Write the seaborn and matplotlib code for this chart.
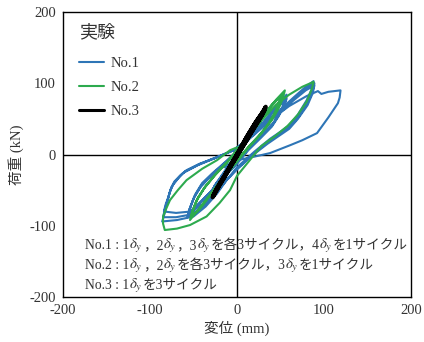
import matplotlib
matplotlib.use("Agg")
import matplotlib.pyplot as plt
import seaborn as sns
import pandas as pd

# ---- data ----
# No.1 : 1dy, 2dy, 3dy x3 cycles, 4dy x1
disp1 = [0, 10, 20, 28, 26, 18, 8, 0, -10, -20, -28, -26, -18, -8, 0,
         10, 20, 28, 25, 17, 6, -2, -11, -20, -28, -25, -16, -6, 0,
         10, 20, 28, 25, 16, 5, -3, -12, -21, -28, -24, -15, -5, 0,
         15, 30, 45, 57, 55, 50, 42, 30, 15, 0, -15, -30, -45, -57, -55, -50, -42, -30, -15, 0,
         15, 30, 45, 57, 55, 49, 41, 29, 14, 0, -15, -30, -45, -56, -54, -49, -41, -29, -14, 0,
         15, 30, 45, 57, 54, 48, 40, 28, 13, 0, -15, -30, -45, -56, -53, -48, -40, -28, -13, 0,
         15, 30, 49, 65, 78, 88, 86, 80, 70, 61, 50, 38, 20, 0, -12, -23, -36, -50, -69, -86,
         -83, -81, -78, -75, -68, -62, -45, -25, -4,
         15, 30, 49, 65, 78, 89, 87, 81, 71, 61, 49, 36, 18, 0, -12, -24, -37, -52, -70, -85,
         -83, -80, -77, -73, -66, -60, -44, -24, -4,
         15, 30, 49, 65, 79, 89, 87, 81, 70, 60, 48, 35, 17, 0, -12, -24, -38, -53, -70, -84,
         -82, -79, -76, -72, -65, -58, -43, -23, -4,
         20, 40, 60, 80, 93, 97, 105, 119, 118, 116, 105, 92, 75, 61, 38, 20, 0, -15]
load1 = [0, 20, 38, 52, 44, 30, 12, -2, -20, -38, -52, -44, -30, -12, 2,
         18, 35, 50, 42, 28, 9, -4, -22, -38, -50, -43, -28, -10, 2,
         17, 33, 48, 40, 26, 7, -6, -23, -38, -49, -41, -26, -9, 3,
         25, 45, 68, 84, 75, 60, 45, 30, 12, -10, -30, -52, -72, -88, -78, -62, -46, -30, -14, 4,
         24, 44, 66, 81, 72, 57, 42, 27, 9, -12, -31, -52, -71, -85, -75, -59, -43, -28, -12, 4,
         23, 43, 64, 78, 69, 54, 39, 24, 6, -13, -32, -52, -70, -82, -72, -56, -40, -26, -10, 5,
         25, 42, 62, 80, 94, 103, 92, 76, 56, 42, 32, 22, 4, -18, -36, -55, -73, -87, -92, -94,
         -82, -71, -56, -45, -34, -26, -15, -5, 6,
         24, 41, 60, 78, 92, 100, 89, 72, 53, 39, 29, 18, 0, -20, -36, -54, -71, -84, -88, -88,
         -77, -65, -52, -41, -31, -24, -14, -4, 6,
         23, 40, 58, 76, 90, 97, 86, 69, 50, 36, 26, 15, -2, -21, -36, -53, -69, -80, -82, -80,
         -70, -60, -48, -38, -29, -22, -13, -4, 6,
         28, 50, 68, 82, 89, 85, 88, 90, 80, 72, 52, 30, 20, 13, 2, -3, -8, -18]

# No.2 : 1dy, 2dy x3 cycles, 3dy x1
disp2 = [0, 10, 20, 28, 26, 18, 8, 0, -10, -20, -26, -24, -16, -6, 0,
         10, 20, 28, 25, 17, 7, -1, -10, -19, -26, -23, -15, -5, 0,
         10, 20, 27, 25, 16, 6, -2, -10, -19, -26, -23, -14, -5, 0,
         15, 30, 45, 55, 53, 48, 40, 28, 14, 0, -15, -30, -45, -54, -52, -47, -38, -26, -12, 0,
         15, 30, 44, 53, 51, 46, 38, 27, 13, 0, -15, -30, -44, -53, -51, -46, -37, -25, -11, 0,
         15, 30, 40, 50, 48, 43, 36, 25, 12, 0, -15, -30, -43, -52, -50, -45, -36, -24, -10, 0,
         15, 30, 45, 60, 75, 88, 86, 80, 70, 58, 44, 28, 12, 0, -8, -20, -35, -54, -69, -83,
         -85, -85, -81, -77, -68, -58, -40, -23, -8, 0]
load2 = [0, 22, 42, 58, 48, 32, 12, -4, -24, -44, -58, -48, -32, -12, 4,
         21, 40, 56, 46, 30, 10, -5, -25, -43, -56, -46, -30, -10, 4,
         20, 39, 54, 45, 29, 9, -6, -25, -43, -55, -45, -29, -9, 5,
         30, 55, 77, 90, 80, 65, 48, 30, 12, -8, -30, -55, -78, -92, -82, -66, -48, -30, -12, 6,
         29, 53, 74, 86, 77, 62, 46, 28, 10, -9, -31, -55, -77, -89, -79, -63, -46, -28, -10, 6,
         29, 53, 70, 81, 73, 58, 43, 26, 8, -10, -32, -56, -77, -87, -77, -61, -44, -27, -9, 6,
         28, 50, 70, 84, 95, 102, 92, 74, 56, 40, 26, 12, -12, -30, -50, -68, -87, -99, -104, -106,
         -97, -87, -75, -64, -50, -36, -20, -8, 6, 10]

# No.3 : 1dy x3 cycles
disp3 = [0, 10, 20, 28, 33, 30, 22, 12, 0, -10, -20, -28, -25, -16, -6, 2,
         12, 22, 30, 32, 29, 21, 11, -1, -11, -21, -27, -24, -15, -5, 2,
         12, 22, 30, 32, 28, 20, 10, -2, -12, -22, -27, -23, -14, -4, 2]
load3 = [0, 22, 42, 56, 67, 58, 42, 22, -2, -22, -42, -60, -52, -34, -12, 4,
         26, 46, 60, 64, 56, 40, 20, -4, -24, -44, -58, -50, -32, -10, 4,
         26, 46, 60, 63, 55, 39, 19, -5, -25, -45, -57, -49, -31, -9, 4]

specimens = ["No.1", "No.2", "No.3"]
colors = ["#2E75B6", "#2DAA4E", "#000000"]
widths = [1.5, 1.5, 3.0]
xticks = [-200, -100, 0, 100, 200]
yticks = [-200, -100, 0, 100, 200]
legend_title = "実験"
xlabel = "変位 (mm)"
ylabel = "荷重 (kN)"
# note lines: segments, "D" marks an italic delta with subscript y
notes = [["No.1 : 1", "D", "，2", "D", "，3", "D", "を各3サイクル，4", "D", "を1サイクル"],
         ["No.2 : 1", "D", "，2", "D", "を各3サイクル，3", "D", "を1サイクル"],
         ["No.3 : 1", "D", "を3サイクル"]]

# ---- plotting ----
sns.set_style("white")
plt.rcParams["font.family"] = ["Liberation Serif", "Noto Sans CJK JP"]
plt.rcParams["mathtext.fontset"] = "stix"
plt.rcParams["axes.unicode_minus"] = False
textc = "#333333"

fig = plt.figure(figsize=(4.24, 3.42), dpi=100)
ax = fig.add_axes([63 / 424, 1 - 297 / 342, 348 / 424, 285 / 342])

ax.axhline(0, color="black", lw=1.0, zorder=1)
ax.axvline(0, color="black", lw=1.0, zorder=1)

data = [(disp1, load1), (disp2, load2), (disp3, load3)]
for name, (dx, ly), c, w in zip(specimens, data, colors, widths):
    df = pd.DataFrame({"disp": dx, "load": ly})
    sns.lineplot(data=df, x="disp", y="load", sort=False, estimator=None,
                 color=c, lw=w, label=name, ax=ax, zorder=3)

ax.set_xlim(-200, 200)
ax.set_ylim(-200, 200)
ax.set_xticks(xticks)
ax.set_yticks(yticks)
ax.tick_params(length=0, labelsize=10.5, colors=textc, pad=5)
for s in ax.spines.values():
    s.set_color("black")
    s.set_linewidth(1.0)
ax.set_xlabel(xlabel, fontsize=10.5, color=textc, labelpad=3)
ax.set_ylabel(ylabel, fontsize=10.5, color=textc, labelpad=4)

leg = ax.legend(loc="upper left", bbox_to_anchor=(0.02, 0.99), frameon=False,
                title=legend_title, alignment="left", fontsize=10.5,
                handlelength=1.7, handletextpad=0.5, labelspacing=0.75,
                borderaxespad=0.2)
leg.get_title().set_fontsize(13)
leg.get_title().set_color(textc)
leg.get_title().set_family(["Noto Sans CJK JP"])
leg._legend_box.sep = 11
for t in leg.get_texts():
    t.set_color(textc)
for h, w in zip(leg.get_lines(), widths):
    h.set_linewidth(min(w, 2.2))

# note text built from segments
fig.canvas.draw()
renderer = fig.canvas.get_renderer()
ys = [249, 269, 289]
fs = 9.8
for segs, yp in zip(notes, ys):
    xpix = 85
    ypix = 342 - yp
    for seg in segs:
        if seg == "D":
            t = fig.text(xpix / 424, ypix / 342, r"$\delta_y$", fontsize=fs + 1,
                         color=textc, va="baseline", ha="left")
        else:
            t = fig.text(xpix / 424, ypix / 342, seg, fontsize=fs,
                         color=textc, va="baseline", ha="left")
        bb = t.get_window_extent(renderer)
        xpix += bb.width

fig.savefig("out.png", dpi=100)
